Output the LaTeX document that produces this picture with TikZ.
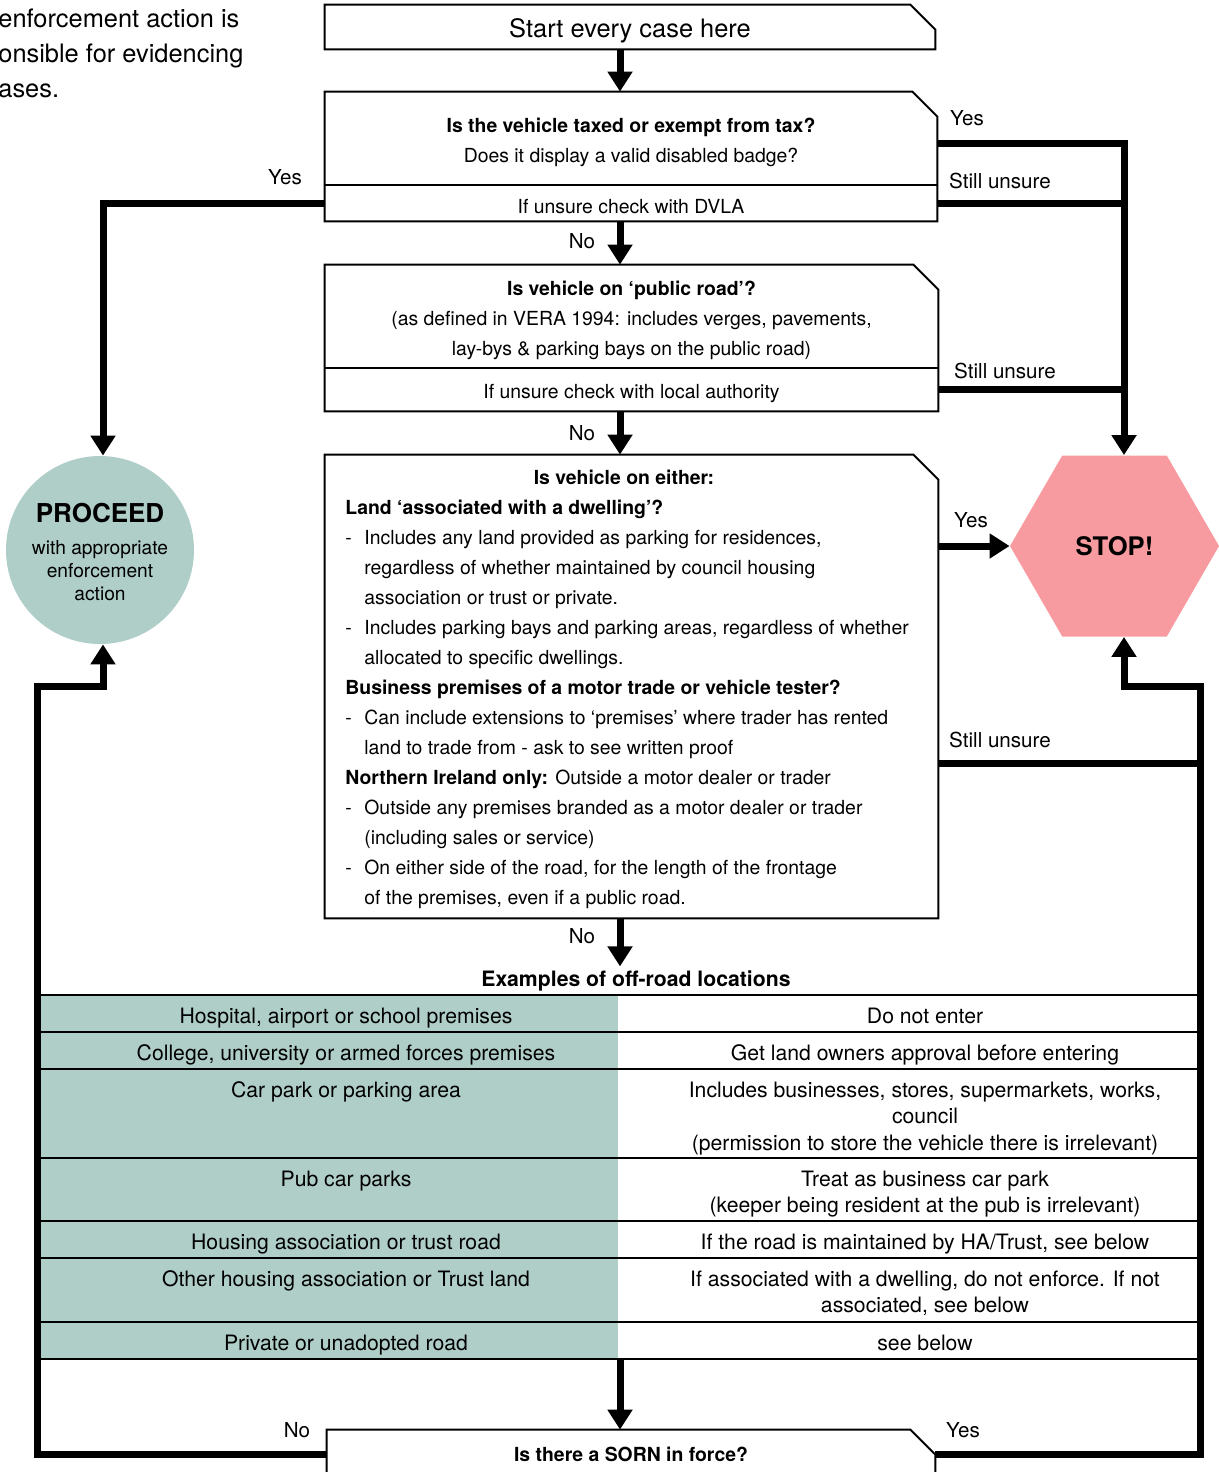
\documentclass[tikz,border=0pt]{standalone}
\usepackage{fontspec}
\setmainfont{TeX Gyre Heros}
\usetikzlibrary{arrows.meta,shapes.geometric}
\definecolor{proceedteal}{HTML}{AFCEC8}
\definecolor{stoppink}{HTML}{F89BA0}
\newcommand{\boxfont}{\fontsize{9.7}{15}\selectfont}
\newcommand{\lblfont}{\fontsize{10.3}{12}\selectfont}
\newcommand{\cellfont}{\fontsize{10.6}{13.25}\selectfont}
\newcommand{\headfont}{\fontsize{12.7}{17.5}\selectfont}
\newcommand{\dashitem}{\makebox[9.5pt][l]{-}}
\newcommand{\contline}{\hspace*{9.5pt}}
\newcommand{\topstrut}{\rule{0pt}{11pt}}
\newcommand{\cutbox}[2]{\draw[boxedge] (#2.south west) |- ([xshift=-12.5pt]#1.north east) -- ([yshift=-12.5pt]#1.north east) |- (#2.south west) -- cycle;}
\tikzstyle{arrow} = [line width=3.5pt,-{Triangle[width=12pt,length=10pt]}]
\tikzstyle{flow} = [line width=3.5pt]
\tikzstyle{boxedge} = [line width=1pt]
\tikzstyle{qbox} = [rectangle, inner sep=0pt, align=center, font=\boxfont]
\tikzstyle{lbl} = [font=\lblfont, inner sep=0pt]
\tikzstyle{cell} = [font=\cellfont, align=center, anchor=north, inner sep=0pt]
\tikzstyle{tablerule} = [line width=1.2pt]

\begin{document}
\begin{tikzpicture}[x=0.5pt,y=-0.5pt]
\useasboundingbox (0,0) rectangle (1219,1472);
\clip (0,0) rectangle (1219,1472);

\node (note) [anchor=north west, align=left, inner sep=0pt, font=\headfont] at (-2,9) {enforcement action is\\onsible for evidencing\\ases.};

% question boxes
\node (start) [qbox, minimum width=305pt, minimum height=22pt, font=\headfont, text height=12pt, text depth=1.4pt] at (630,27) {Start every case here};
\node (tax) [qbox, minimum width=306pt, minimum height=46.5pt] at (631,138.5) {\topstrut\textbf{Is the vehicle taxed or exempt from tax?}\\Does it display a valid disabled badge?};
\node (taxcheck) [qbox, minimum width=306pt, minimum height=18pt] at (631,203) {\topstrut If unsure check with DVLA};
\node (road) [qbox, minimum width=306.5pt, minimum height=51.5pt] at (631.5,316.5) {\topstrut\textbf{Is vehicle on ‘public road’?}\\(as defined in VERA 1994: includes verges, pavements,\\lay-bys \& parking bays on the public road)};
\node (roadcheck) [qbox, minimum width=306.5pt, minimum height=21.5pt] at (631.5,389.5) {\topstrut If unsure check with local authority};
\node (either) [qbox, minimum width=306.5pt, minimum height=231.5pt] at (631.5,686.5) {};
\node (eithertitle) [font=\boxfont\bfseries, inner sep=0pt] at (624,477) {Is vehicle on either:};
\node (eithertext) [anchor=north west, align=left, font=\boxfont, inner sep=0pt] at (345,500) {\textbf{Land ‘associated with a dwelling’?}\\
\dashitem Includes any land provided as parking for residences,\\
\contline regardless of whether maintained by council housing\\
\contline association or trust or private.\\
\dashitem Includes parking bays and parking areas, regardless of whether\\
\contline allocated to specific dwellings.\\
\textbf{Business premises of a motor trade or vehicle tester?}\\
\dashitem Can include extensions to ‘premises’ where trader has rented\\
\contline land to trade from - ask to see written proof\\
\textbf{Northern Ireland only:} Outside a motor dealer or trader\\
\dashitem Outside any premises branded as a motor dealer or trader\\
\contline (including sales or service)\\
\dashitem On either side of the road, for the length of the frontage\\
\contline of the premises, even if a public road.};
\node (sorn) [qbox, minimum width=304pt, minimum height=24pt, font=\boxfont\bfseries] at (631,1454) {Is there a SORN in force?};

\cutbox{start}{start}
\cutbox{tax}{taxcheck}
\draw[boxedge] (taxcheck.north west) -- (taxcheck.north east);
\cutbox{road}{roadcheck}
\draw[boxedge] (roadcheck.north west) -- (roadcheck.north east);
\cutbox{either}{either}
\cutbox{sorn}{sorn}

% outcomes
\node (proceed) [circle, fill=proceedteal, minimum size=94pt, inner sep=0pt, align=center, font=\fontsize{9.6}{11.5}\selectfont] at (100,550) {\rule{0pt}{12pt}{\fontsize{13}{15}\selectfont\bfseries PROCEED}\\[4.5pt]with appropriate\\enforcement\\action};
\node (stop) [regular polygon, regular polygon sides=6, minimum size=104.5pt, inner sep=0pt, fill=stoppink, font=\fontsize{12.8}{15}\selectfont\bfseries] at (1114.5,546) {STOP!};

% table of off-road locations
\node (offroad) [font=\cellfont\bfseries, inner sep=2pt] at (636,981) {Examples of off-road locations};
\fill[proceedteal] (38,995) rectangle (618,1359);
\foreach \y in {995,1032,1069,1158,1221,1258,1322,1359}
  \draw[tablerule] (37,\y) -- (1200,\y);
\foreach \top/\lt/\rt [count=\i] in {
  995/{Hospital, airport or school premises}/{Do not enter},
  1032/{College, university or armed forces premises}/{Get land owners approval before entering},
  1069/{Car park or parking area}/{Includes businesses, stores, supermarkets, works,\\council\\(permission to store the vehicle there is irrelevant)},
  1158/{Pub car parks}/{Treat as business car park\\(keeper being resident at the pub is irrelevant)},
  1221/{Housing association or trust road}/{If the road is maintained by HA\slash Trust, see below},
  1258/{Other housing association or Trust land}/{If associated with a dwelling, do not enforce. If not\\associated, see below},
  1322/{Private or unadopted road}/{see below}}
{
  \node (left\i) [cell] at (346,\top+12.5) {\lt};
  \node (right\i) [cell] at (925,\top+12.5) {\rt};
}

% labels
\node (yes1) [lbl] at (967,118) {Yes};
\node (unsure1) [lbl] at (1000,181) {Still unsure};
\node (yes2) [lbl] at (285,177) {Yes};
\node (no1) [lbl] at (582,241) {No};
\node (unsure2) [lbl] at (1005,371) {Still unsure};
\node (no2) [lbl] at (582,433) {No};
\node (yes3) [lbl] at (971,520) {Yes};
\node (unsure3) [lbl] at (1000,740) {Still unsure};
\node (no3) [lbl] at (582,936) {No};
\node (no4) [lbl] at (297,1430) {No};
\node (yes4) [lbl] at (963,1430) {Yes};

% connectors
\coordinate (stoptop) at ([xshift=4.75pt]stop.north);
\coordinate (stopbottom) at ([xshift=4.75pt]stop.south);
\coordinate (rightrail) at (1200,686);
\coordinate (leftrail) at (37,686);
\coordinate (eitherunsure) at ([yshift=-38.25pt]either.east);
\coordinate (tablebottom) at (620,1359);

\draw [arrow] ([xshift=-5pt]start.south) -- ([xshift=-5pt]start.south |- tax.north);
\draw [arrow] ([xshift=-5.5pt]taxcheck.south) -- ([xshift=-5.5pt]taxcheck.south |- road.north);
\draw [arrow] ([xshift=-5.75pt]roadcheck.south) -- ([xshift=-5.75pt]roadcheck.south |- either.north);
\draw [arrow] ([xshift=-5.75pt]either.south) -- ([xshift=-5.75pt]either.south |- offroad.north);
\draw [arrow] (tablebottom) -- (tablebottom |- sorn.north);

\draw [arrow] ([yshift=-2.25pt]tax.east) -| (stoptop);
\draw [flow] (taxcheck.east) -- (taxcheck.east -| stoptop);
\draw [flow] (roadcheck.east) -- (roadcheck.east -| stoptop);
\draw [arrow] (either.east |- stop.west) -- (stop.west);
\draw [flow] (eitherunsure) -- (eitherunsure -| rightrail);
\draw [arrow] (sorn.east) -| (rightrail) -| (stopbottom);

\draw [arrow] (taxcheck.west) -| ([xshift=1.5pt]proceed.north);
\draw [arrow] (sorn.west) -| (leftrail) -| ([xshift=1.5pt]proceed.south);
\end{tikzpicture}
\end{document}
